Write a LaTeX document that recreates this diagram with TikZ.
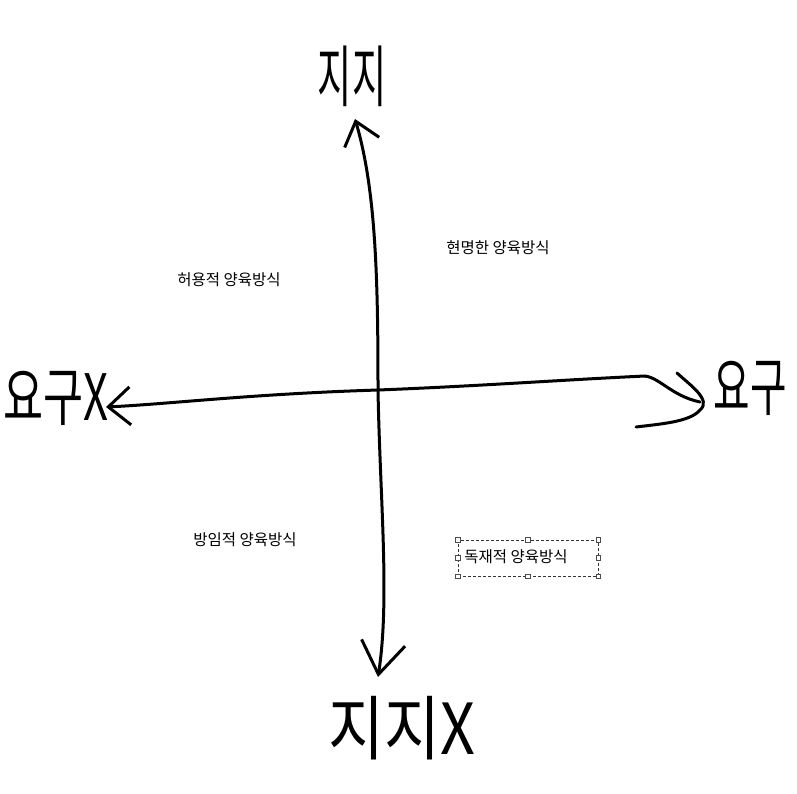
\documentclass[tikz,border=0pt]{standalone}
\usepackage{fontspec}
\newfontfamily\krfont{Noto Sans CJK KR}
\usetikzlibrary{arrows.meta}

\begin{document}
\begin{tikzpicture}[
  x=1pt, y=-1pt,
  hand/.style={font=\krfont\fontsize{64}{64}\selectfont, inner sep=0pt},
  typed/.style={font=\krfont\fontsize{15.5}{17}\selectfont, inner sep=0pt},
  axis/.style={line width=3pt, line cap=round, line join=round},
  selbox/.style={draw=black!80, dash pattern=on 3pt off 2pt, line width=0.6pt},
  handle/.style={draw=black!70, fill=white, minimum size=4.5pt, inner sep=0pt, line width=0.6pt},
]
\useasboundingbox (0,0) rectangle (797,793);

% handwritten axis ends
\node[hand] (support) at (352,76) {\scalebox{0.58}[1.05]{지지}};
\node[hand] (nosupport) at (402,728) {\scalebox{0.95}[1.1]{지지X}};
\node[hand] (nodemand) at (56,398) {\scalebox{0.68}[1]{요구X}};
\node[hand] (demand) at (750,388) {\scalebox{0.62}[1]{요구}};

% parenting styles
\node[typed] (wise) at (498,248) {현명한 양육방식};
\node[typed] (permissive) at (229,280) {허용적 양육방식};
\node[typed] (neglect) at (245,540) {방임적 양육방식};
\node[selbox, minimum width=140pt, minimum height=36pt] (sel) at (528,558) {};
\node[typed] (autocratic) at (516,557) {독재적 양육방식};
\foreach \a in {north west, north, north east, east, south east, south, south west, west}
  \node[handle] at (sel.\a) {};

% axes
\coordinate (center) at (378,390);
\coordinate (top) at (355,119);
\coordinate (bottom) at (378,677);
\coordinate (left) at (106,407);
\coordinate (right) at (645,376);

\draw[axis, -{Straight Barb[length=22pt, width=36pt, line width=3pt]}]
  (center) .. controls (378,280) and (376,190) .. (top);
\draw[axis, -{Straight Barb[length=32pt, width=44pt, line width=3pt]}]
  (center) .. controls (380,500) and (390,600) .. (bottom);
\draw[axis, -{Straight Barb[length=22pt, width=38pt, line width=3pt]}]
  (center) .. controls (250,394) and (170,404) .. (left);
\draw[axis] (center) .. controls (480,386) and (560,380) .. (right);

% hook at the right end
\coordinate (hook1) at (700,402);
\coordinate (hook2) at (677,373);
\coordinate (hook3) at (636,427);
\draw[axis] (right) .. controls (660,378) and (672,396) .. (hook1);
\draw[axis] (hook2) .. controls (690,385) and (712,400) .. (700,410)
  .. controls (690,422) and (660,424) .. (hook3);
\end{tikzpicture}
\end{document}
